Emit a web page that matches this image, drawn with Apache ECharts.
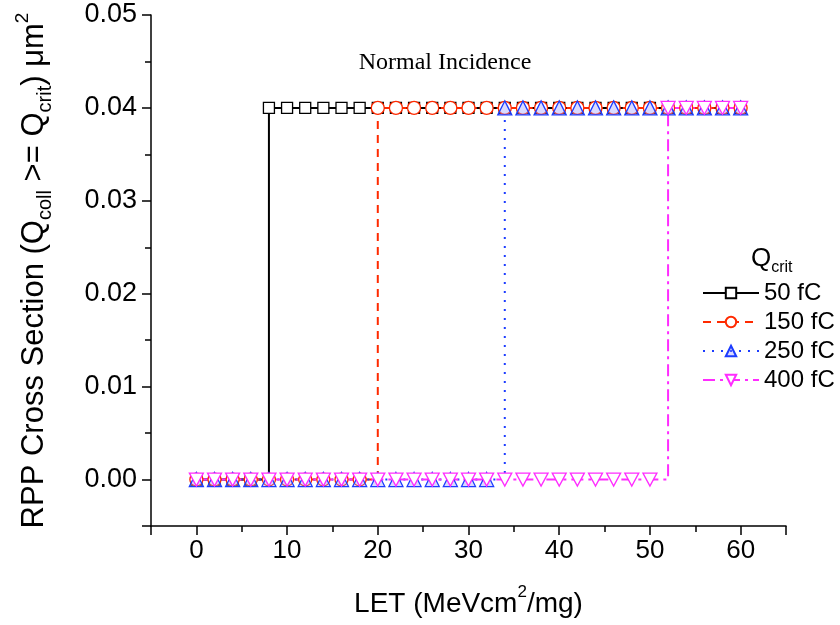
<!DOCTYPE html>
<html>
<head>
<meta charset="utf-8">
<script src="https://cdn.jsdelivr.net/npm/echarts@6/dist/echarts.min.js"></script>
<style>
  html, body { margin: 0; padding: 0; background: #fff; }
  #chart { width: 840px; height: 625px; }
</style>
</head>
<body>
<div id="chart"></div>
<script>
// LET values (MeVcm2/mg) and RPP cross section per Qcrit (um^2)
const LET = [0, 2, 4, 6, 8, 10, 12, 14, 16, 18, 20, 22, 24, 26, 28, 30, 32, 34, 36, 38, 40, 42, 44, 46, 48, 50, 52, 54, 56, 58, 60];
const q50 = [0, 0, 0, 0, 0.04, 0.04, 0.04, 0.04, 0.04, 0.04, 0.04, 0.04, 0.04, 0.04, 0.04, 0.04, 0.04, 0.04, 0.04, 0.04, 0.04, 0.04, 0.04, 0.04, 0.04, 0.04, 0.04, 0.04, 0.04, 0.04, 0.04];
const q150 = [0, 0, 0, 0, 0, 0, 0, 0, 0, 0, 0.04, 0.04, 0.04, 0.04, 0.04, 0.04, 0.04, 0.04, 0.04, 0.04, 0.04, 0.04, 0.04, 0.04, 0.04, 0.04, 0.04, 0.04, 0.04, 0.04, 0.04];
const q250 = [0, 0, 0, 0, 0, 0, 0, 0, 0, 0, 0, 0, 0, 0, 0, 0, 0, 0.04, 0.04, 0.04, 0.04, 0.04, 0.04, 0.04, 0.04, 0.04, 0.04, 0.04, 0.04, 0.04, 0.04];
const q400 = [0, 0, 0, 0, 0, 0, 0, 0, 0, 0, 0, 0, 0, 0, 0, 0, 0, 0, 0, 0, 0, 0, 0, 0, 0, 0, 0.04, 0.04, 0.04, 0.04, 0.04];
const seriesNames = ['50 fC', '150 fC', '250 fC', '400 fC'];

const font = 'Arial, "Liberation Sans", sans-serif';

function pairs(ys) {
    return LET.map((x, i) => [x, ys[i]]);
}

function lineSeries(name, ys, color, dash, symbol, fill, size) {
    return {
        name: name,
        type: 'line',
        step: 'end',
        data: pairs(ys),
        symbol: symbol,
        symbolSize: size,
        showAllSymbol: true,
        lineStyle: { color: color, width: 2, type: dash },
        itemStyle: { color: fill, borderColor: color, borderWidth: 1.3 },
        emphasis: { disabled: true },
    };
}

const chart = echarts.init(document.getElementById('chart'));
chart.setOption({
    animation: false,
    backgroundColor: '#fff',
    title: [
        {
            text: 'Normal Incidence',
            left: 440,
            top: 46,
            textAlign: 'center',
            textStyle: { fontFamily: '"Liberation Serif", "Times New Roman", serif', fontSize: 24, fontWeight: 'normal', color: '#000' },
        },
        {
            text: '{q|Q}{s|crit}',
            left: 746,
            top: 241,
            textStyle: {
                fontWeight: 'normal',
                rich: {
                    q: { fontFamily: font, fontSize: 26, fontWeight: 'normal', color: '#000', lineHeight: 30, verticalAlign: 'top' },
                    s: { fontFamily: font, fontSize: 16, fontWeight: 'normal', color: '#000', lineHeight: 30, verticalAlign: 'bottom', padding: [14, 0, 0, 0] },
                },
            },
        },
    ],
    legend: {
        orient: 'vertical',
        left: 702,
        top: 281,
        padding: 0,
        itemWidth: 56,
        itemHeight: 13,
        itemGap: 5,
        data: seriesNames,
        textStyle: { fontFamily: font, fontSize: 24, color: '#000' },
    },
    grid: { left: 151, top: 15, right: 54, bottom: 99 },
    xAxis: [
        {
            type: 'value',
            min: -5,
            max: 65,
            position: 'bottom',
            name: '{t|LET (MeVcm}{sup|2}{t|/mg)}',
            nameLocation: 'middle',
            nameGap: 58,
            nameTextStyle: {
                rich: {
                    t: { fontFamily: font, fontSize: 28, color: '#000', lineHeight: 34, verticalAlign: 'bottom' },
                    sup: { fontFamily: font, fontSize: 17, color: '#000', lineHeight: 34, verticalAlign: 'top', padding: [0, 0, 14, 0] },
                },
            },
            axisLine: { onZero: false, lineStyle: { color: '#000', width: 1.5 } },
            axisTick: { length: 9, lineStyle: { color: '#000', width: 1.5 } },
            axisLabel: {
                fontFamily: font, fontSize: 26, color: '#000', margin: 12,
                formatter: v => (Math.abs(v % 10) < 1e-9 ? String(v) : ''),
            },
            splitLine: { show: false },
        },
        {
            type: 'value',
            min: -5,
            max: 65,
            splitNumber: 14,
            position: 'bottom',
            axisLine: { show: false, onZero: false },
            axisTick: { length: 6, lineStyle: { color: '#000', width: 1.5 } },
            axisLabel: { show: false },
            splitLine: { show: false },
        },
    ],
    yAxis: [
        {
            type: 'value',
            min: -0.005,
            max: 0.05,
            position: 'left',
            name: '{t|RPP Cross Section (Q}{sub|coll}{t| >= Q}{sub|crit}{t|) \u03bcm}{sup|2}',
            nameLocation: 'middle',
            nameGap: 96,
            nameTextStyle: {
                rich: {
                    t: { fontFamily: font, fontSize: 31, color: '#000', lineHeight: 42, verticalAlign: 'middle' },
                    sub: { fontFamily: font, fontSize: 20, color: '#000', lineHeight: 42, verticalAlign: 'bottom', padding: [12, 0, 0, 0] },
                    sup: { fontFamily: font, fontSize: 19, color: '#000', lineHeight: 42, verticalAlign: 'top', padding: [0, 0, 14, 0] },
                },
            },
            axisLine: { onZero: false, lineStyle: { color: '#000', width: 1.5 } },
            axisTick: { length: 9, lineStyle: { color: '#000', width: 1.5 } },
            axisLabel: {
                fontFamily: font, fontSize: 27, color: '#000', margin: 14,
                formatter: v => (Math.abs(Math.round(v * 100) - v * 100) < 1e-6 ? v.toFixed(2) : ''),
            },
            splitLine: { show: false },
        },
        {
            type: 'value',
            min: -0.005,
            max: 0.05,
            splitNumber: 11,
            position: 'left',
            axisLine: { show: false, onZero: false },
            axisTick: { length: 6, lineStyle: { color: '#000', width: 1.5 } },
            axisLabel: { show: false },
            splitLine: { show: false },
        },
    ],
    series: [
        lineSeries(seriesNames[0], q50, '#000000', 'solid', 'rect', '#ffffff', 11),
        lineSeries(seriesNames[1], q150, '#ff2a00', [8, 6], 'circle', '#ffffff', 13),
        lineSeries(seriesNames[2], q250, '#1c3cff', [2, 7], 'triangle', 'rgba(150,150,255,0.35)', 14),
        lineSeries(seriesNames[3], q400, '#ff2cff', [12, 5, 3, 5], 'path://M0,0 L10,0 L5,9 Z', '#ffffff', [14, 13]),
    ],
});
</script>
</body>
</html>
